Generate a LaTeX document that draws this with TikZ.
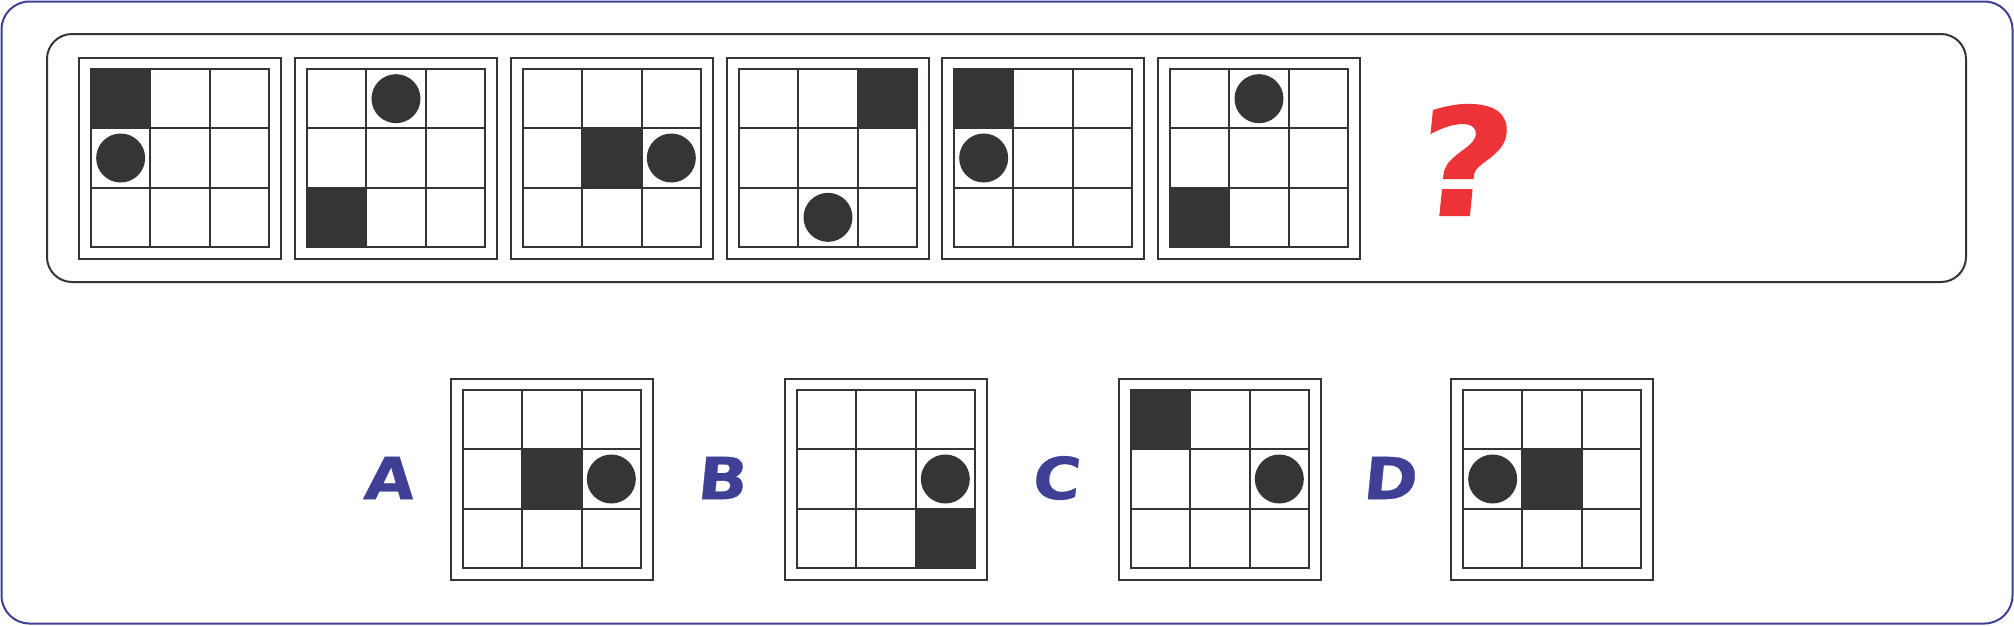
\documentclass[tikz,border=0pt]{standalone}
\usepackage{fontspec}
\newfontfamily\labelfont{DejaVu Sans Bold}[FakeSlant=0.1,FakeStretch=1.12,FakeBold=0.6]
\definecolor{ink}{HTML}{373435}
\definecolor{edgeblue}{HTML}{3F3F95}
\definecolor{qred}{HTML}{EE3338}
% one 3x3 puzzle: left, top, square col, square row, circle col, circle row
\newcommand{\puzzle}[6]{%
\begin{scope}[shift={(#1,#2)}]
\draw[frame] (0,0) rectangle (202,201);
\begin{scope}[shift={(12,11)},x=59.33pt,y=-59.33pt]
\fill[ink] (#3-1,#4-1) rectangle (#3,#4);
\fill[ink] (#5-0.5,#6-0.5) circle [radius=24.5pt];
\draw[frame] (0,0) rectangle (3,3);
\foreach \i in {1,2}{
\draw[frame] (\i,0)--(\i,3);
\draw[frame] (0,\i)--(3,\i);
}
\end{scope}
\end{scope}}
\begin{document}
\begin{tikzpicture}[x=1pt,y=-1pt,
  frame/.style={draw=ink,line width=2pt},
  optlabel/.style={text=edgeblue,font=\labelfont\fontsize{58}{58}\selectfont,inner sep=0pt},
  qmark/.style={text=qred,font=\labelfont\fontsize{150}{150}\selectfont,inner sep=0pt}]
\useasboundingbox (0,0) rectangle (2014,625);
\draw[edgeblue,line width=2pt,rounded corners=28pt] (1.5,1.5) rectangle (2012.5,623.5);
\draw[frame,rounded corners=25pt] (47,34) rectangle (1966,282);
% the row
\puzzle{79}{58}{1}{1}{1}{2}
\puzzle{295}{58}{1}{3}{2}{1}
\puzzle{511}{58}{2}{2}{3}{2}
\puzzle{727}{58}{3}{1}{2}{3}
\puzzle{942}{58}{1}{1}{1}{2}
\puzzle{1158}{58}{1}{3}{2}{1}
\node[qmark] (q) at (1460,160) {?};
% the options
\puzzle{451}{379}{2}{2}{3}{2}
\puzzle{785}{379}{3}{3}{3}{2}
\puzzle{1119}{379}{1}{1}{3}{2}
\puzzle{1451}{379}{2}{2}{1}{2}
\node[optlabel] (la) at (388,478) {A};
\node[optlabel] (lb) at (721,478) {B};
\node[optlabel] (lc) at (1055,478) {C};
\node[optlabel] (ld) at (1389,478) {D};
\end{tikzpicture}
\end{document}
